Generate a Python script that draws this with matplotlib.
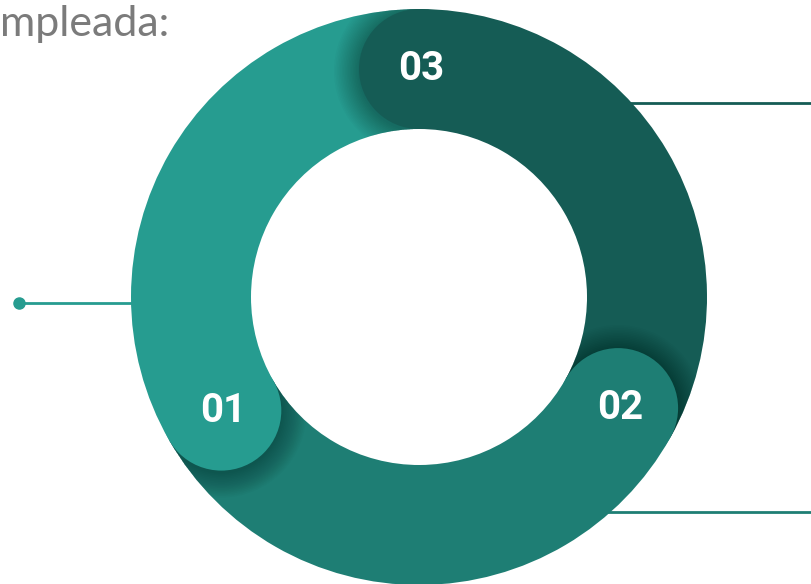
import matplotlib.pyplot as plt
import numpy as np
from matplotlib.patches import Circle

# Segment data (share of the ring, counter-clockwise from the top)
labels = ["01", "02", "03"]
shares = [33.3, 33.6, 33.1]
colors = ["#269C90", "#1E7E74", "#155C55"]

# Leader lines: (y in px from top, x start, x end, colour index, dot?)
leaders = [(103, 560, 812, 2, False), (512, 560, 812, 1, False), (303, 19, 250, 0, True)]

W, H = 812, 584
cx, cy = 419, H - 297
r_out, ring = 288, 120
r_mid = r_out - ring / 2

fig = plt.figure(figsize=(W / 100, H / 100), dpi=100)
ax = fig.add_axes([0, 0, 1, 1])

# Leader lines behind the ring
for y, x0, x1, ci, dot in leaders:
    ax.plot([x0, x1], [H - y, H - y], color=colors[ci], lw=2, zorder=1, solid_capstyle="butt")
    if dot:
        ax.plot([x0], [H - y], "o", color=colors[ci], ms=8, zorder=1)

wedges, _ = ax.pie(shares, startangle=90, counterclock=True, radius=r_out, center=(cx, cy),
                   colors=colors, wedgeprops=dict(width=ring, linewidth=0))
for w in wedges:
    w.set_zorder(2)

# Rounded cap at the end of every segment, with a soft shadow on the next one
for i, w in enumerate(wedges):
    nxt = wedges[(i + 1) % len(wedges)]
    ang = np.deg2rad(w.theta2)
    px, py = cx + r_mid * np.cos(ang), cy + r_mid * np.sin(ang)
    for k in range(16):
        sh = Circle((px, py - 2), ring / 2 + 1 + k * 1.6, color="black", alpha=0.018,
                    lw=0, zorder=3)
        ax.add_patch(sh)
        sh.set_clip_path(nxt)
    ax.add_patch(Circle((px, py), ring / 2, color=colors[i], lw=0, zorder=4))
    ax.text(px + 2, py, labels[i], color="white", fontsize=29, fontweight="bold",
            family="Roboto", ha="center", va="center", zorder=5)

ax.text(0, H - 36, "mpleada:", color="#7b7b7b", fontsize=31, fontweight="normal",
        family="Lato", ha="left", va="baseline")

ax.set_xlim(0, W)
ax.set_ylim(0, H)
ax.set_aspect("auto")
ax.axis("off")

fig.savefig("out.png", dpi=100)
